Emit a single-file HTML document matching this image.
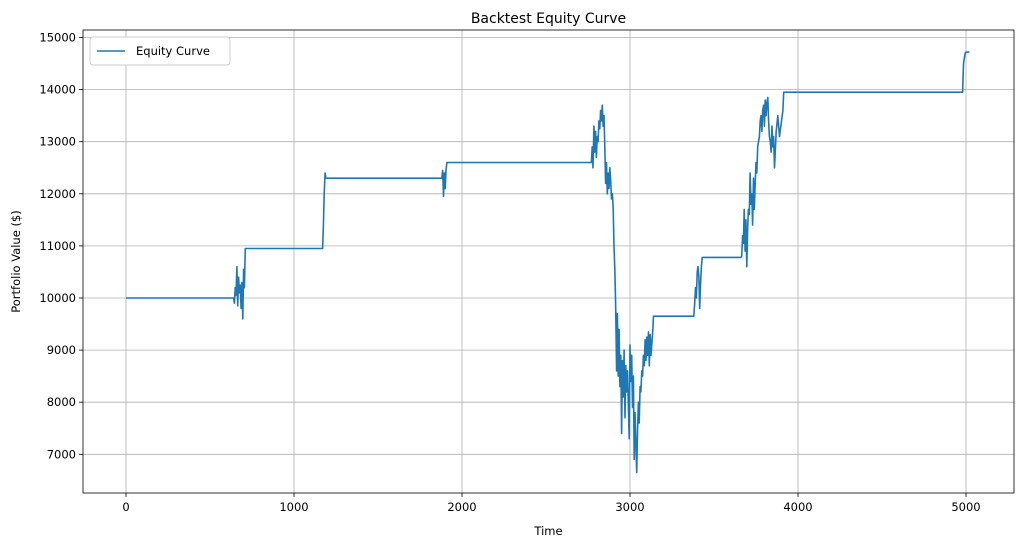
<!DOCTYPE html>
<html><head><meta charset="utf-8"><style>
body{margin:0;background:#fff;}
svg{display:block;font-family:"DejaVu Sans","Liberation Sans",sans-serif;}
</style></head><body>
<svg id="chart" width="1023" height="547"></svg>
<script>
const xTicks=[0,1000,2000,3000,4000,5000];
const yTicks=[7000,8000,9000,10000,11000,12000,13000,14000,15000];
const times=[
0,640,645,650,655,660,665,670,675,680,
685,690,695,700,705,710,1170,1175,1180,1185,
1190,1880,1885,1890,1895,1900,1905,1910,2770,2775,
2780,2785,2790,2795,2800,2805,2810,2815,2820,2825,
2830,2835,2840,2845,2850,2855,2860,2865,2870,2875,
2880,2885,2890,2895,2900,2905,2910,2915,2920,2925,
2930,2935,2940,2945,2950,2955,2960,2965,2970,2975,
2980,2985,2990,2995,3000,3005,3010,3015,3020,3025,
3030,3035,3040,3045,3050,3055,3060,3065,3070,3075,
3080,3085,3090,3095,3100,3105,3110,3115,3120,3125,
3135,3140,3380,3385,3390,3395,3400,3405,3410,3415,
3420,3425,3430,3660,3665,3670,3675,3680,3685,3690,
3695,3700,3705,3710,3715,3720,3725,3730,3735,3740,
3745,3750,3755,3760,3765,3770,3775,3780,3785,3790,
3795,3800,3805,3810,3815,3820,3825,3830,3835,3840,
3845,3850,3855,3860,3870,3880,3890,3910,3915,4980,
4985,4990,4995,5000,5020];
const values=[
10000,10000,9900,10200,10050,10600,9850,10400,10100,10250,
9800,10300,9600,10550,10200,10950,10950,11400,12000,12400,
12300,12300,12450,11950,12400,12100,12450,12600,12600,12900,
12500,13300,12800,13200,12700,13100,13000,13400,13250,13600,
13400,13700,13300,13500,12900,12200,12600,12000,12400,12100,
12500,12250,11900,12000,11700,11000,10500,9800,8600,9700,
8500,9400,8300,8900,7400,8800,8100,9000,7700,8700,
8200,8600,8000,7300,9100,8400,8900,7900,8500,6900,
7800,7200,6650,7500,8000,7600,8300,8200,8600,8500,
8900,8700,9200,8800,9250,8900,9350,8700,9300,8900,
9350,9650,9650,9900,10200,10000,10500,10600,10400,9800,
10300,10600,10780,10780,10800,11200,11050,11700,10900,11500,
10600,11300,11700,11600,12400,11800,12000,11400,12300,11700,
12200,12600,12400,12900,13000,13100,13400,13500,13200,13600,
13700,13300,13800,13500,13750,13850,13400,13100,13000,12800,
13300,12900,13100,12500,13200,13500,13100,13600,13950,13950,
14500,14600,14700,14720,14720];
const L=83,R=1014,T=30,B=493;
const X0=126,XS=0.168, Y0=298, YS=0.0521;
const sx=t=>X0+t*XS, sy=v=>Y0-(v-10000)*YS;
const svg=document.getElementById('chart');
const NS='http://www.w3.org/2000/svg';
function mk(tag,attrs,parent){const e=document.createElementNS(NS,tag);for(const k in attrs)e.setAttribute(k,attrs[k]);(parent||svg).appendChild(e);return e;}
const grid=mk('g',{});


xTicks.forEach(t=>{const x=sx(t);
 const g=mk('line',{x1:x,x2:x,y1:T,y2:B,stroke:'#b0b0b0','stroke-width':0.8},grid);
 
 
 mk('line',{x1:x,x2:x,y1:B,y2:B+4,stroke:'#000','stroke-width':0.8});
 const tx=mk('text',{x:x,y:B+18,'text-anchor':'middle','font-size':11.5,fill:'#000'});tx.textContent=t;
 
 
});
yTicks.forEach(v=>{const y=sy(v);
 const g=mk('line',{x1:L,x2:R,y1:y,y2:y,stroke:'#b0b0b0','stroke-width':0.8},grid);
 
 
 mk('line',{x1:L-4,x2:L,y1:y,y2:y,stroke:'#000','stroke-width':0.8});
 const tx=mk('text',{x:L-7,y:y+4,'text-anchor':'end','font-size':11.5,fill:'#000'});tx.textContent=v;
 
 
});
const n=Math.min(times.length,values.length);
let d='';for(let i=0;i<n;i++){d+=(i?'L':'M')+sx(times[i]).toFixed(1)+' '+sy(values[i]).toFixed(1);}
const line=mk('path',{d:d,fill:'none',stroke:'#1f77b4','stroke-width':1.6,'stroke-linejoin':'round'});


const frame=mk('rect',{x:L,y:T,width:R-L,height:B-T,fill:'none',stroke:'#000','stroke-width':0.8});


const title=mk('text',{x:(L+R)/2,y:23,'text-anchor':'middle','font-size':14});title.textContent='Backtest Equity Curve';


const xl=mk('text',{x:(L+R)/2,y:535,'text-anchor':'middle','font-size':11.5});xl.textContent='Time';


const yl=mk('text',{x:0,y:0,'text-anchor':'middle','font-size':11.5,transform:'translate(20,'+((T+B)/2)+') rotate(-90)'});yl.textContent='Portfolio Value ($)';


const lg=mk('g',{});


mk('rect',{x:90,y:37,width:140,height:28,rx:3,fill:'#fff',stroke:'#ccc','stroke-width':1},lg);
mk('line',{x1:97,x2:125,y1:51,y2:51,stroke:'#1f77b4','stroke-width':1.6},lg);
const lt=mk('text',{x:136,y:55,'font-size':11.5},lg);lt.textContent='Equity Curve';


</script>
</body></html>
